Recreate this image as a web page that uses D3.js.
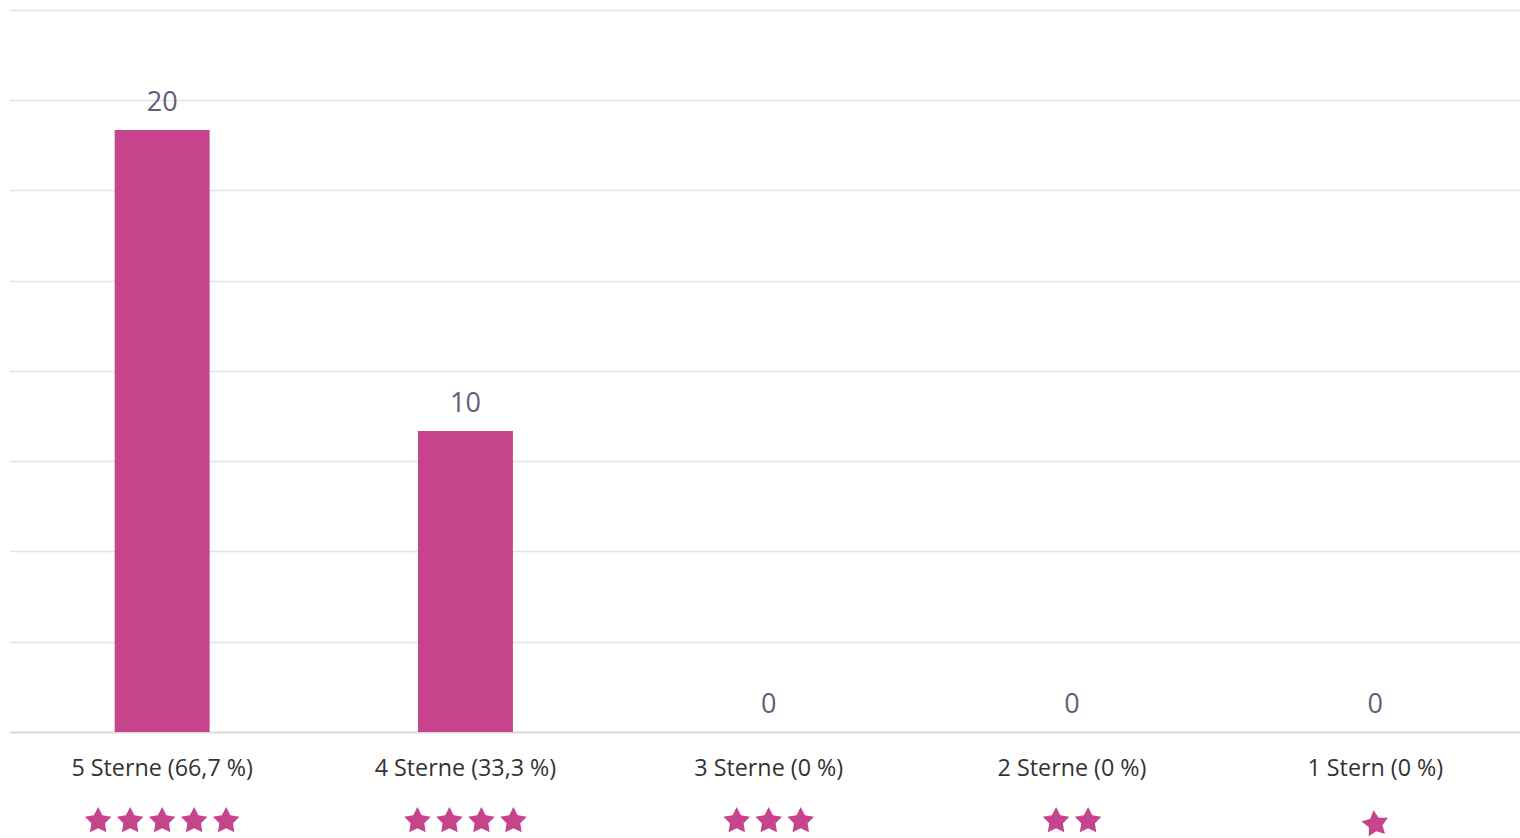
<!DOCTYPE html>
<html><head><meta charset="utf-8">
<script src="https://cdn.jsdelivr.net/npm/d3@7"></script>
<style>html,body{margin:0;padding:0;background:#fff;}svg{display:block;}</style>
</head><body>
<svg id="c" width="1520" height="838"></svg>
<script>
const categories = ["5 Sterne (66,7 %)", "4 Sterne (33,3 %)", "3 Sterne (0 %)", "2 Sterne (0 %)", "1 Stern (0 %)"];
const values = [20, 10, 0, 0, 0];
const starCounts = [5, 4, 3, 2, 1];
const yTicks = [0, 3, 6, 9, 12, 15, 18, 21, 24];

const svg = d3.select("#c");
const x = d3.scaleBand().domain(categories).range([10.5, 1527]).padding(0);
const y = d3.scaleLinear().domain([0, 24]).range([732, 9.6]);
const barW = x.bandwidth() * 0.313;

svg.append("g").selectAll("line").data(yTicks).join("line")
  .attr("x1", 10).attr("x2", 1520)
  .attr("y1", d => Math.round(y(d)) + 0.5).attr("y2", d => Math.round(y(d)) + 0.5)
  .attr("stroke", d => d === 0 ? "#d9d9d9" : "#e3e3e3").attr("stroke-width", d => d === 0 ? 2 : 1.5);

svg.append("g").selectAll("rect").data(values).join("rect")
  .attr("x", (d, i) => x(categories[i]) + x.bandwidth() / 2 - barW / 2)
  .attr("y", d => y(d)).attr("width", barW).attr("height", d => y(0) - y(d))
  .attr("fill", "#c6448b");

svg.append("g").selectAll("text").data(values).join("text")
  .attr("x", (d, i) => x(categories[i]) + x.bandwidth() / 2)
  .attr("y", d => y(d) - 19)
  .attr("text-anchor", "middle")
  .attr("font-family", "'Open Sans', sans-serif").attr("font-size", 27)
  .attr("fill", "#5f5e78").text(d => d);

svg.append("g").selectAll("text").data(categories).join("text")
  .attr("x", d => x(d) + x.bandwidth() / 2)
  .attr("y", 776)
  .attr("text-anchor", "middle")
  .attr("font-family", "'Open Sans', sans-serif").attr("font-size", 23.3)
  .attr("fill", "#333").text(d => d);

// fat five-pointed star
const starPts = d3.range(10).map(k => [k * Math.PI / 5, k % 2 === 0 ? 14 : 7.2]);
const starPath = d3.lineRadial().curve(d3.curveLinearClosed)(starPts);
categories.forEach((c, i) => {
  const n = starCounts[i];
  const cx = x(c) + x.bandwidth() / 2;
  const sp = 32;
  for (let k = 0; k < n; k++) {
    const sx = cx + (k - (n - 1) / 2) * sp;
    svg.append("path").attr("d", starPath)
      .attr("transform", `translate(${sx},${n === 1 ? 824 : 821})${n === 1 ? " rotate(-8)" : ""}`)
      .attr("fill", "#c6448b");
  }
});
</script>
</body></html>
